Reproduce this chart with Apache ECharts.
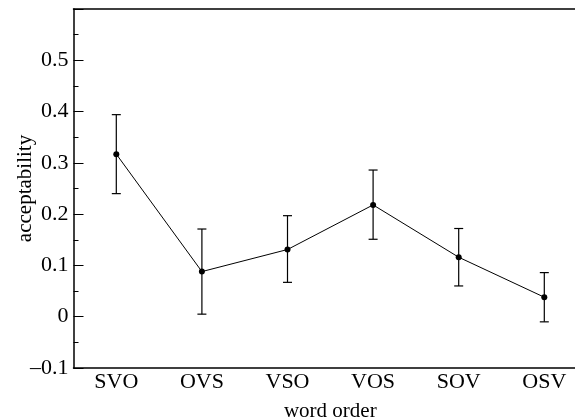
<!DOCTYPE html>
<html>
<head>
<meta charset="utf-8">
<script src="https://cdn.jsdelivr.net/npm/echarts@6/dist/echarts.min.js"></script>
<style>
  html, body { margin: 0; padding: 0; background: #fff; }
  #chart { width: 575px; height: 420px; }
</style>
</head>
<body>
<div id="chart"></div>
<script>
// word orders on the x axis
const wordOrders = ['SVO', 'OVS', 'VSO', 'VOS', 'SOV', 'OSV']
// mean acceptability
const acceptability = [0.317, 0.088, 0.131, 0.218, 0.116, 0.038]
// error bar ends
const errLow = [0.240, 0.005, 0.067, 0.151, 0.060, -0.010]
const errHigh = [0.394, 0.171, 0.197, 0.286, 0.172, 0.086]

const font = '"Liberation Serif", "DejaVu Serif", serif'

const chart = echarts.init(document.getElementById('chart'))

const errData = wordOrders.map((w, i) => [i, errLow[i], errHigh[i]])

const option = {
  backgroundColor: '#fff',
  animation: false,
  // plot runs past the right edge of the window, like the original
  grid: {
    left: 73.5,
    top: 9,
    width: 513.6,
    height: 359,
    outerBoundsMode: 'none',
    containLabel: false,
  },
  xAxis: [
    {
      type: 'category',
      data: wordOrders,
      boundaryGap: true,
      name: 'word order',
      nameLocation: 'middle',
      nameGap: 33,
      nameMoveOverlap: false,
      nameTextStyle: { fontFamily: font, fontSize: 21, color: '#000' },
      axisLine: { onZero: false, lineStyle: { color: '#000', width: 1.5 } },
      axisTick: { inside: true, length: 10, alignWithLabel: true, lineStyle: { color: '#000', width: 1 } },
      axisLabel: { fontFamily: font, fontSize: 22, color: '#000', margin: 3 },
      splitLine: { show: false },
    },
    {
      type: 'category',
      data: wordOrders,
      position: 'top',
      boundaryGap: true,
      axisLine: { onZero: false, lineStyle: { color: '#000', width: 1.5 } },
      axisTick: { inside: true, length: 10, alignWithLabel: true, lineStyle: { color: '#000', width: 1 } },
      axisLabel: { show: false },
      splitLine: { show: false },
    },
  ],
  yAxis: {
    type: 'value',
    min: -0.1,
    max: 0.6,
    interval: 0.1,
    name: 'acceptability',
    nameLocation: 'middle',
    nameGap: 38,
    nameMoveOverlap: false,
    nameTextStyle: { fontFamily: font, fontSize: 21, color: '#000' },
    axisLine: { show: true, onZero: false, lineStyle: { color: '#000', width: 1.5 } },
    axisTick: { show: true, inside: true, length: 10, lineStyle: { color: '#000', width: 1 } },
    minorTick: { show: true, splitNumber: 2, length: 5, lineStyle: { color: '#000', width: 1 } },
    axisLabel: {
      fontFamily: font,
      fontSize: 22,
      color: '#000',
      margin: 5,
      formatter: (v) => {
        const r = Math.round(v * 10) / 10
        if (r > 0.55) return ''
        if (r === 0) return '0'
        return r.toFixed(1).replace('-', '\u2013')
      },
    },
    splitLine: { show: false },
  },
  series: [
    {
      type: 'custom',
      data: errData,
      z: 2,
      renderItem: (params, api) => {
        const x = api.value(0)
        const lo = api.coord([x, api.value(1)])
        const hi = api.coord([x, api.value(2)])
        const cap = 4.5
        const style = { stroke: '#000', lineWidth: 1.2 }
        return {
          type: 'group',
          children: [
            { type: 'line', shape: { x1: lo[0], y1: lo[1], x2: hi[0], y2: hi[1] }, style },
            { type: 'line', shape: { x1: hi[0] - cap, y1: hi[1], x2: hi[0] + cap, y2: hi[1] }, style },
            { type: 'line', shape: { x1: lo[0] - cap, y1: lo[1], x2: lo[0] + cap, y2: lo[1] }, style },
          ],
        }
      },
    },
    {
      type: 'line',
      data: acceptability,
      z: 3,
      symbol: 'circle',
      symbolSize: 6,
      showSymbol: true,
      itemStyle: { color: '#000' },
      lineStyle: { color: '#000', width: 1 },
    },
  ],
}

chart.setOption(option)
</script>
</body>
</html>
